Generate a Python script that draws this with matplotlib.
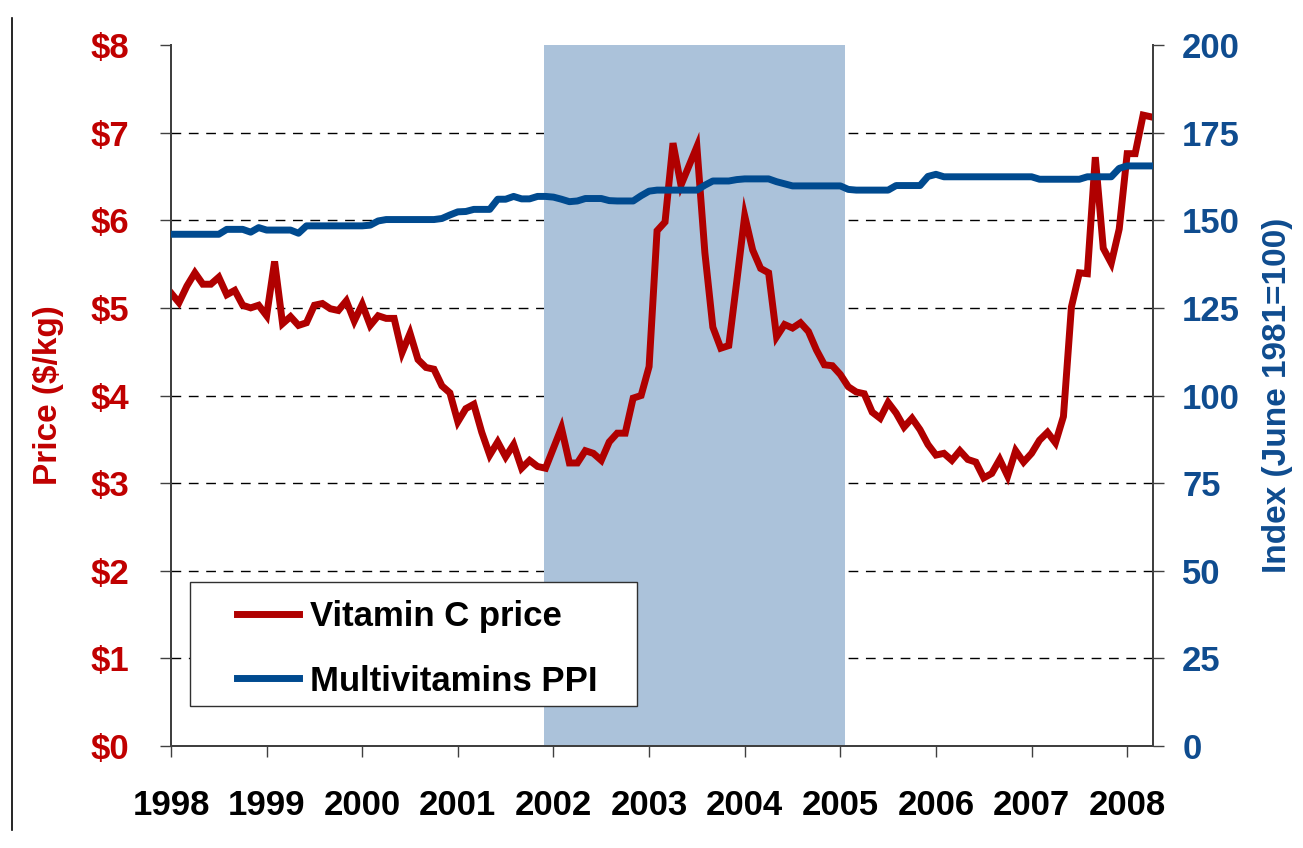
import numpy as np
import pandas as pd
import matplotlib
matplotlib.use('Agg')
import matplotlib.pyplot as plt
from matplotlib.lines import Line2D
from matplotlib.patches import Rectangle

plt.rcParams['font.family'] = ['Liberation Sans', 'DejaVu Sans']

# monthly data, Jan 1998 - Apr 2008
vitc_price = [
    5.17, 5.06, 5.25, 5.40, 5.27, 5.27, 5.35, 5.15, 5.20, 5.03, 5.00, 5.03,  # 1998
    4.91, 5.53, 4.82, 4.90, 4.80, 4.83, 5.03, 5.05, 4.99, 4.97, 5.08, 4.85,  # 1999
    5.04, 4.80, 4.91, 4.88, 4.88, 4.49, 4.71, 4.41, 4.32, 4.30, 4.11, 4.03,  # 2000
    3.70, 3.85, 3.90, 3.58, 3.32, 3.47, 3.30, 3.44, 3.17, 3.26, 3.19, 3.17,  # 2001
    3.40, 3.63, 3.23, 3.23, 3.37, 3.34, 3.26, 3.47, 3.57, 3.57, 3.97, 4.00,  # 2002
    4.33, 5.88, 5.98, 6.88, 6.40, 6.62, 6.84, 5.63, 4.78, 4.54, 4.57, 5.30,  # 2003
    6.05, 5.66, 5.45, 5.40, 4.67, 4.81, 4.77, 4.83, 4.73, 4.52, 4.35, 4.34,  # 2004
    4.24, 4.10, 4.04, 4.02, 3.81, 3.74, 3.92, 3.80, 3.64, 3.74, 3.61, 3.44,  # 2005
    3.32, 3.34, 3.26, 3.37, 3.27, 3.24, 3.06, 3.11, 3.27, 3.08, 3.37, 3.24,  # 2006
    3.34, 3.49, 3.58, 3.46, 3.76, 5.01, 5.40, 5.39, 6.72, 5.68, 5.51, 5.90,  # 2007
    6.76, 6.76, 7.20, 7.18,                                                  # 2008
]
multivit_ppi = [
    146.0, 146.0, 146.0, 146.0, 146.0, 146.0, 146.0, 147.4, 147.4, 147.4, 146.6, 147.9,  # 1998
    147.2, 147.2, 147.2, 147.2, 146.3, 148.4, 148.4, 148.4, 148.4, 148.4, 148.4, 148.4,  # 1999
    148.4, 148.6, 149.8, 150.2, 150.2, 150.2, 150.2, 150.2, 150.2, 150.2, 150.5, 151.5,  # 2000
    152.4, 152.5, 153.1, 153.1, 153.1, 156.0, 156.0, 156.8, 156.1, 156.1, 156.8, 156.8,  # 2001
    156.6, 156.0, 155.3, 155.5, 156.2, 156.2, 156.2, 155.6, 155.5, 155.5, 155.5, 157.0,  # 2002
    158.3, 158.6, 158.6, 158.6, 158.6, 158.6, 158.6, 160.0, 161.2, 161.2, 161.2, 161.6,  # 2003
    161.8, 161.8, 161.8, 161.8, 161.0, 160.4, 159.8, 159.8, 159.8, 159.8, 159.8, 159.8,  # 2004
    159.8, 158.8, 158.6, 158.6, 158.6, 158.6, 158.6, 159.9, 159.9, 159.9, 159.9, 162.5,  # 2005
    163.1, 162.4, 162.4, 162.4, 162.4, 162.4, 162.4, 162.4, 162.4, 162.4, 162.4, 162.4,  # 2006
    162.4, 161.7, 161.7, 161.7, 161.7, 161.7, 161.7, 162.4, 162.4, 162.4, 162.4, 164.8,  # 2007
    165.5, 165.5, 165.5, 165.5,                                                          # 2008
]
months = pd.date_range('1998-01-01', periods=len(vitc_price), freq='MS')
t = months.year + (months.month - 1) / 12.0

shade_start, shade_end = 2001.9, 2005.05
year_ticks = list(range(1998, 2009))
price_ticks = list(range(0, 9))
price_labels = [f'${v}' for v in price_ticks]
index_ticks = list(range(0, 201, 25))

RED_LINE = '#B00000'
RED_TXT = '#C00000'
BLUE_LINE = '#004A8F'
BLUE_TXT = '#0F4C8F'
SHADE = '#ABC2DA'
LW = 5.0
FS = 25

fig = plt.figure(figsize=(13.03, 8.48), dpi=100)
ax = fig.add_axes([171/1303, 1 - 746/848, (1153-171)/1303, (746-45)/848])
ax2 = ax.twinx()

# gridlines below shade
for v in price_ticks[1:-1]:
    ax.axhline(v, color='black', lw=1.0, ls=(0, (7, 5.5)), zorder=0)
ax.axvspan(shade_start, shade_end, color=SHADE, lw=0, zorder=1)

ax.plot(t, vitc_price, color=RED_LINE, lw=LW, solid_joinstyle='miter', zorder=3)
ax2.plot(t, multivit_ppi, color=BLUE_LINE, lw=LW, zorder=3)

ax.set_xlim(1998.0, 2008.27)
ax.set_ylim(0, 8)
ax2.set_ylim(0, 200)

ax.set_xticks(year_ticks)
ax.set_xticklabels([str(y) for y in year_ticks], fontsize=FS, fontweight='bold')
ax.set_yticks(price_ticks)
ax.set_yticklabels(price_labels, fontsize=FS, fontweight='bold', color=RED_TXT)
ax2.set_yticks(index_ticks)
ax2.set_yticklabels([str(v) for v in index_ticks], fontsize=FS, fontweight='bold', color=BLUE_TXT)

ax.tick_params(axis='y', direction='out', length=8, width=1, pad=22, color='#404040')
ax.tick_params(axis='x', direction='out', length=8, width=1, pad=23, color='#404040')
ax2.tick_params(axis='y', direction='out', length=8, width=1, pad=13, color='#404040')

for a in (ax, ax2):
    a.spines['top'].set_visible(False)
    for s in ('left', 'right', 'bottom'):
        a.spines[s].set_color('#404040')
        a.spines[s].set_linewidth(1.4)

ax.set_ylabel('Price ($/kg)', fontsize=24, fontweight='bold', color=RED_TXT)
ax.yaxis.set_label_coords(-(171-64)/982, 0.5)
ax2.set_ylabel('Index (June 1981=100)', fontsize=24, fontweight='bold', color=BLUE_TXT)
ax2.yaxis.set_label_coords(1 + (1262-1153)/982, 0.5)

# legend box like the original (fixed size, entries inset)
ax2.add_patch(Rectangle((0.0193, 0.057), 0.4552, 0.177, transform=ax2.transAxes,
                        facecolor='white', edgecolor='#303030', lw=1.0, zorder=9))
handles = [Line2D([], [], color=RED_LINE, lw=LW),
           Line2D([], [], color=BLUE_LINE, lw=LW)]
leg = ax2.legend(handles, ['Vitamin C price', 'Multivitamins PPI'],
                 loc='center left', bbox_to_anchor=(0.0193 + 47/982, 0.057 + 0.177/2 - 5/701),
                 prop={'size': FS, 'weight': 'bold'}, frameon=False,
                 handlelength=1.8, handletextpad=0.3, borderpad=0.0,
                 labelspacing=0.9, borderaxespad=0)
leg.set_zorder(10)

# left frame line of the original slide
fig.add_artist(Line2D([12/1303, 12/1303], [1 - 830/848, 1 - 18/848],
                      color='black', lw=1.2, transform=fig.transFigure))

fig.savefig('out.png', dpi=100)
